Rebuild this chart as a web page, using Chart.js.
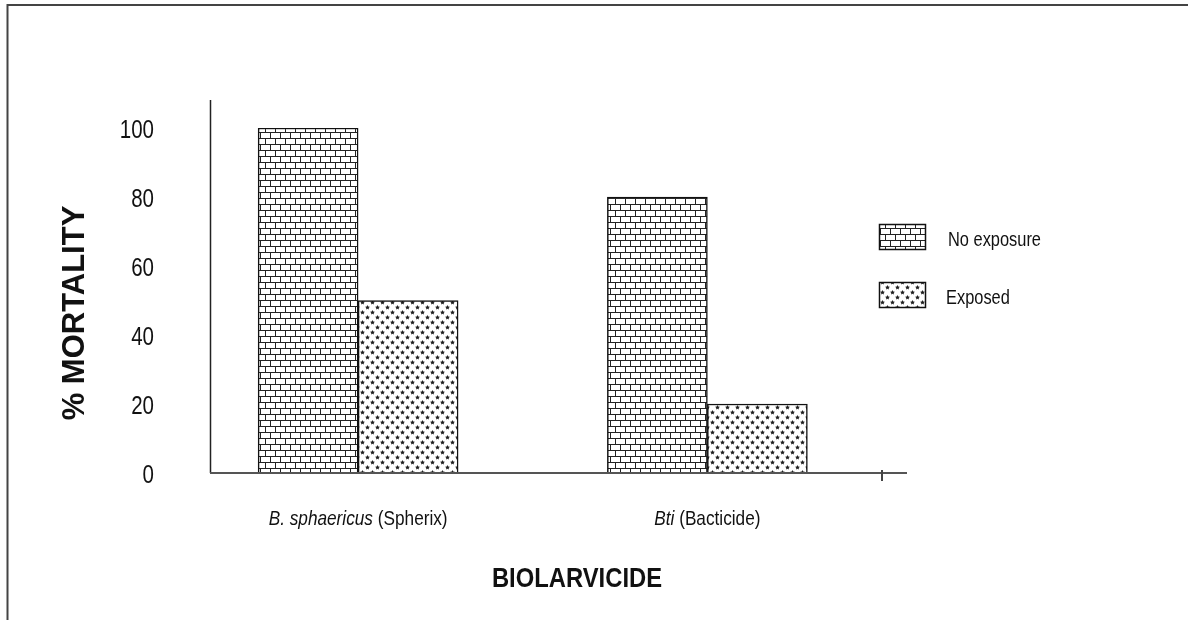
<!DOCTYPE html>
<html><head><meta charset="utf-8">
<script src="https://cdn.jsdelivr.net/npm/chart.js@4.4.0/dist/chart.umd.min.js"></script>
<style>html,body{margin:0;padding:0;background:#fff;overflow:hidden}#wrap{width:1188px;height:620px}</style>
</head><body><div id="wrap"><canvas id="c" width="1188" height="620"></canvas></div>
<script>
// ---- data ----
const categoryItalic = ['B. sphaericus', 'Bti'];
const categoryPlain = ['(Spherix)', '(Bacticide)'];
const categories = categoryItalic.map((c, i) => c + ' ' + categoryPlain[i]);
const seriesNames = ['No exposure', 'Exposed'];
const noExposure = [100, 80];
const exposed = [50, 20];
const yTickValues = [0, 20, 40, 60, 80, 100];
const yTitle = '% MORTALITY';
const xTitle = 'BIOLARVICIDE';

// ---- fonts (Arial Narrow look: Liberation Sans squeezed horizontally) ----
const FAMILY = "'Liberation Sans',Arial,sans-serif";
const SQUEEZE = 0.82;

// ---- patterns ----
function brickPattern() {
  const t = document.createElement('canvas');
  t.width = 10; t.height = 12;
  const g = t.getContext('2d');
  g.fillStyle = '#fff'; g.fillRect(0, 0, 10, 12);
  g.strokeStyle = '#222'; g.lineWidth = 1;
  g.beginPath();
  g.moveTo(0, 0.5); g.lineTo(10, 0.5);
  g.moveTo(0, 6.5); g.lineTo(10, 6.5);
  g.moveTo(0.5, 0); g.lineTo(0.5, 6.5);
  g.moveTo(5.5, 6.5); g.lineTo(5.5, 12);
  g.stroke();
  return g.createPattern(t, 'repeat');
}
function starPattern() {
  const t = document.createElement('canvas');
  t.width = 10; t.height = 10;
  const g = t.getContext('2d');
  g.fillStyle = '#fff'; g.fillRect(0, 0, 10, 10);
  g.fillStyle = '#222';
  function star(cx, cy, r) {
    g.beginPath();
    for (let k = 0; k < 10; k++) {
      const rr = k % 2 === 0 ? r : r * 0.5;
      const a = -Math.PI / 2 + k * Math.PI / 5;
      const px = cx + rr * Math.cos(a), py = cy + rr * Math.sin(a);
      k === 0 ? g.moveTo(px, py) : g.lineTo(px, py);
    }
    g.closePath(); g.fill();
  }
  star(2.5, 2.5, 2.5);
  star(7.5, 7.5, 2.5);
  return g.createPattern(t, 'repeat');
}
const fills = [brickPattern(), starPattern()];

// squeezed text helper
function sText(ctx, txt, x, y, font, align, sx) {
  ctx.save();
  ctx.font = font;
  ctx.textAlign = align;
  ctx.textBaseline = 'middle';
  ctx.translate(x, y);
  ctx.scale(sx, 1);
  ctx.fillText(txt, 0, 0);
  ctx.restore();
}
function sWidth(ctx, txt, font, sx) {
  ctx.save(); ctx.font = font; const w = ctx.measureText(txt).width * sx; ctx.restore(); return w;
}

// ---- decorations plugin ----
const decor = {
  id: 'decor',
  afterDraw(chart) {
    const ctx = chart.ctx;
    const xs = chart.scales.x, ys = chart.scales.y;
    ctx.save();
    ctx.fillStyle = '#111';
    // outer frame (top + left)
    ctx.strokeStyle = '#444'; ctx.lineWidth = 2;
    ctx.beginPath();
    ctx.moveTo(7.5, 620); ctx.lineTo(7.5, 5); ctx.lineTo(1188, 5);
    ctx.stroke();
    // axes
    const base = ys.getPixelForValue(0);
    ctx.strokeStyle = '#222'; ctx.lineWidth = 1.5;
    ctx.beginPath(); ctx.moveTo(210.5, 100); ctx.lineTo(210.5, base); ctx.stroke();
    ctx.strokeStyle = '#555'; ctx.lineWidth = 2;
    ctx.beginPath(); ctx.moveTo(210, base); ctx.lineTo(907, base); ctx.stroke();
    ctx.strokeStyle = '#444'; ctx.lineWidth = 2;
    ctx.beginPath(); ctx.moveTo(xs.right, base - 3); ctx.lineTo(xs.right, base + 8); ctx.stroke();
    // y tick labels
    yTickValues.forEach(v => {
      sText(ctx, String(v), 154, ys.getPixelForValue(v) + 3, '25px ' + FAMILY, 'right', SQUEEZE);
    });
    // category labels (italic part + plain part)
    categoryItalic.forEach((it, i) => {
      const cx = xs.getPixelForValue(i);
      const fi = 'italic 21px ' + FAMILY, fp = '21px ' + FAMILY;
      const wi = sWidth(ctx, it + ' ', fi, SQUEEZE);
      const wp = sWidth(ctx, categoryPlain[i], fp, SQUEEZE);
      const x0 = cx - (wi + wp) / 2;
      sText(ctx, it + ' ', x0, 519, fi, 'left', SQUEEZE);
      sText(ctx, categoryPlain[i], x0 + wi, 519, fp, 'left', SQUEEZE);
    });
    // x title
    sText(ctx, xTitle, 577, 579, 'bold 28px ' + FAMILY, 'center', 0.85);
    // y title
    ctx.save();
    ctx.translate(75, 313); ctx.rotate(-Math.PI / 2);
    sText(ctx, yTitle, 0, 0, 'bold 31px ' + FAMILY, 'center', 1);
    ctx.restore();
    // legend
    const boxes = [224, 282];
    chart.data.datasets.forEach((ds, i) => {
      ctx.fillStyle = ds.backgroundColor;
      ctx.fillRect(879, boxes[i], 46, 25);
      ctx.strokeStyle = '#111'; ctx.lineWidth = 1.5;
      ctx.strokeRect(879.5, boxes[i] + 0.5, 46, 25);
      ctx.fillStyle = '#111';
      sText(ctx, ds.label, i === 0 ? 948 : 946, boxes[i] + 16, '20px ' + FAMILY, 'left', SQUEEZE);
    });
    ctx.restore();
  }
};

new Chart(document.getElementById('c'), {
  type: 'bar',
  data: {
    labels: categories,
    datasets: [
      { label: seriesNames[0], data: noExposure, backgroundColor: fills[0], borderColor: '#111', borderWidth: 1.5, barThickness: 100 },
      { label: seriesNames[1], data: exposed, backgroundColor: fills[1], borderColor: '#111', borderWidth: 1.5, barThickness: 100 }
    ]
  },
  options: {
    responsive: false,
    animation: false,
    devicePixelRatio: 1,
    layout: { padding: { left: 103.5, right: 306, top: 128, bottom: 147 } },
    plugins: { legend: { display: false }, tooltip: { enabled: false }, title: { display: false } },
    scales: {
      x: {
        type: 'category', offset: true,
        grid: { display: false }, border: { display: false },
        ticks: { display: false },
        afterFit(s) { s.height = 0; }
      },
      y: {
        min: 0, max: 100,
        grid: { display: false }, border: { display: false },
        afterBuildTicks(s) { s.ticks = yTickValues.map(v => ({ value: v })); },
        afterFit(s) { s.width = 80; },
        ticks: { display: false }
      }
    }
  },
  plugins: [decor]
});
</script>
</body></html>
